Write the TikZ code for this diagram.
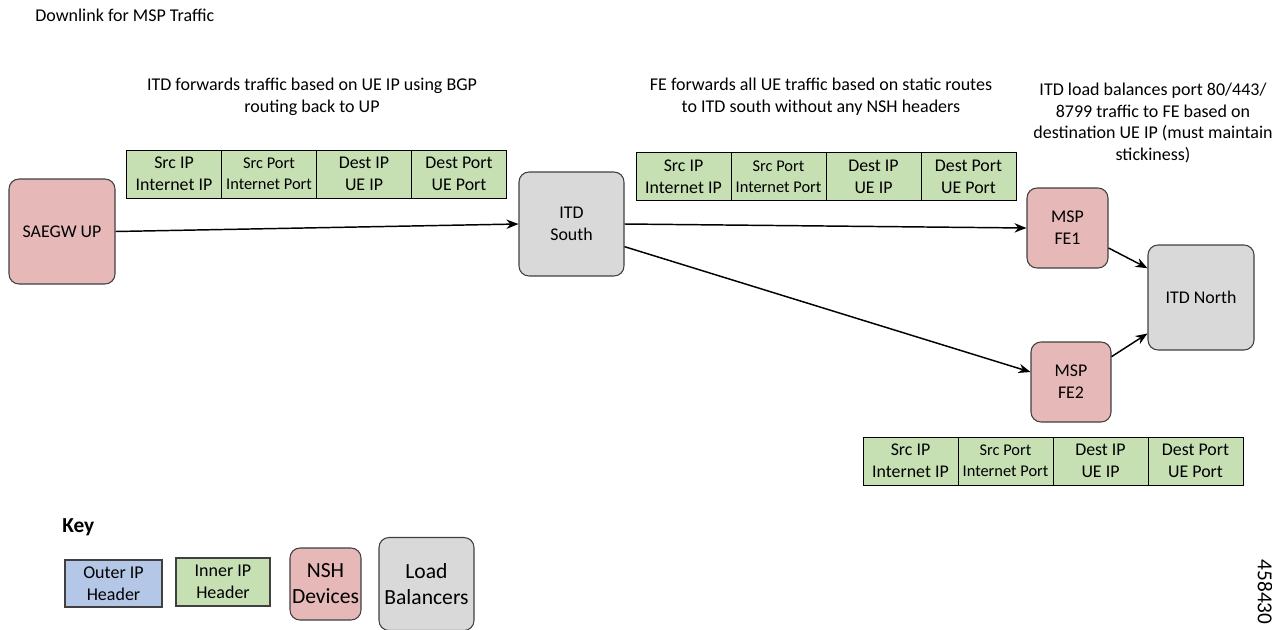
\documentclass[tikz,border=0pt]{standalone}
\usepackage{fontspec}
\setmainfont{Carlito}
\usetikzlibrary{arrows.meta}
\definecolor{nshpink}{HTML}{E6B9B8}
\definecolor{lbgray}{HTML}{D9D9D9}
\definecolor{hdrgreen}{HTML}{C6E0B4}
\definecolor{hdrblue}{HTML}{B4C7E7}
\definecolor{edge}{HTML}{404040}
\tikzset{
  dev/.style={draw=edge, line width=0.8pt, rounded corners=7.5pt, fill=nshpink, align=center, font=\fontsize{13.4}{16.5}\selectfont, inner sep=0pt},
  lb/.style={draw=edge, line width=0.8pt, rounded corners=7.5pt, fill=lbgray, align=center, font=\fontsize{13.4}{16.5}\selectfont, inner sep=0pt},
  cell/.style={draw=black, line width=0.6pt, fill=hdrgreen, align=center, minimum width=71.25pt, minimum height=36pt, inner sep=0pt, font=\fontsize{13.4}{16.5}\selectfont},
  cellsm/.style={cell, font=\fontsize{12.3}{15.5}\selectfont},
  note/.style={align=center, font=\fontsize{13.5}{16.3}\selectfont},
  flow/.style={-{Stealth[length=9pt,width=7pt]}, line width=1.1pt, black},
}
\newcommand{\hdrtable}[3]{%
  \node[cell] (#1a) at (#2,#3) {Src IP\\Internet IP};
  \node[cellsm] (#1b) at ([xshift=71.25pt]#1a.center) {Src Port\\Internet Port};
  \node[cell] (#1c) at ([xshift=71.25pt]#1b.center) {Dest IP\\UE IP};
  \node[cell] (#1d) at ([xshift=71.25pt]#1c.center) {Dest Port\\UE Port};
}
\begin{document}
\begin{tikzpicture}[x=0.75pt,y=-0.75pt]
\useasboundingbox (0,0) rectangle (1272,629);
\node[anchor=west, font=\fontsize{13.5}{16}\selectfont, inner sep=0pt] (title) at (35,15) {Downlink for MSP Traffic};

\node[note] (n1) at (312,97) {ITD forwards traffic based on UE IP using BGP\\routing back to UP};
\node[note] (n2) at (821,97) {FE forwards all UE traffic based on static routes\\to ITD south without any NSH headers};
\node[note] (n3) at (1153,123) {ITD load balances port 80/443/\\8799 traffic to FE based on\\destination UE IP (must maintain\\stickiness)};

\hdrtable{ta}{174}{174}
\hdrtable{tb}{683.5}{176.5}
\hdrtable{tc}{910.5}{461}

\node[dev, minimum width=79.5pt, minimum height=78.75pt] (saegw) at (62,231.5) {SAEGW UP};
\node[lb, minimum width=78.75pt, minimum height=78pt] (itds) at (571.5,224) {ITD\\South};
\node[dev, minimum width=60.75pt, minimum height=60pt] (fe1) at (1067.5,228) {MSP\\FE1};
\node[dev, minimum width=60pt, minimum height=60pt] (fe2) at (1071,382) {MSP\\FE2};
\node[lb, minimum width=79.5pt, minimum height=78.75pt] (itdn) at (1201,297.5) {ITD North};

\draw[flow] (saegw.east) -- (itds.west);
\draw[flow] (itds.east) -- (fe1.west);
\draw[flow] ([yshift=-17pt]itds.east) -- ([yshift=7.5pt]fe2.west);
\draw[flow] ([yshift=-15pt]fe1.east) -- ([yshift=22pt]itdn.west);
\draw[flow] ([yshift=19pt]fe2.east) -- ([yshift=-27pt]itdn.west);

\node[anchor=west, font=\bfseries\fontsize{16}{18}\selectfont, inner sep=0pt] (key) at (62,527) {Key};
\node[draw=edge, line width=0.8pt, fill=hdrblue, minimum width=72.75pt, minimum height=35.25pt, inner sep=0pt, align=center, font=\fontsize{13.5}{16.5}\selectfont] (k1) at (113.5,583.5) {Outer IP\\Header};
\node[draw=edge, line width=0.8pt, fill=hdrgreen, minimum width=70.5pt, minimum height=36pt, inner sep=0pt, align=center, font=\fontsize{13.5}{16.5}\selectfont] (k2) at (223,582) {Inner IP\\Header};
\node[dev, minimum width=53.25pt, minimum height=54pt, font=\fontsize{16.2}{19.5}\selectfont] (k3) at (325.5,584) {NSH\\Devices};
\node[lb, minimum width=71.25pt, minimum height=69.75pt, font=\fontsize{16.2}{19.5}\selectfont] (k4) at (426.5,584) {Load\\Balancers};

\node[rotate=-90, font=\fontsize{16}{18}\selectfont, inner sep=0pt] (fig) at (1265,592) {458430};
\end{tikzpicture}
\end{document}
